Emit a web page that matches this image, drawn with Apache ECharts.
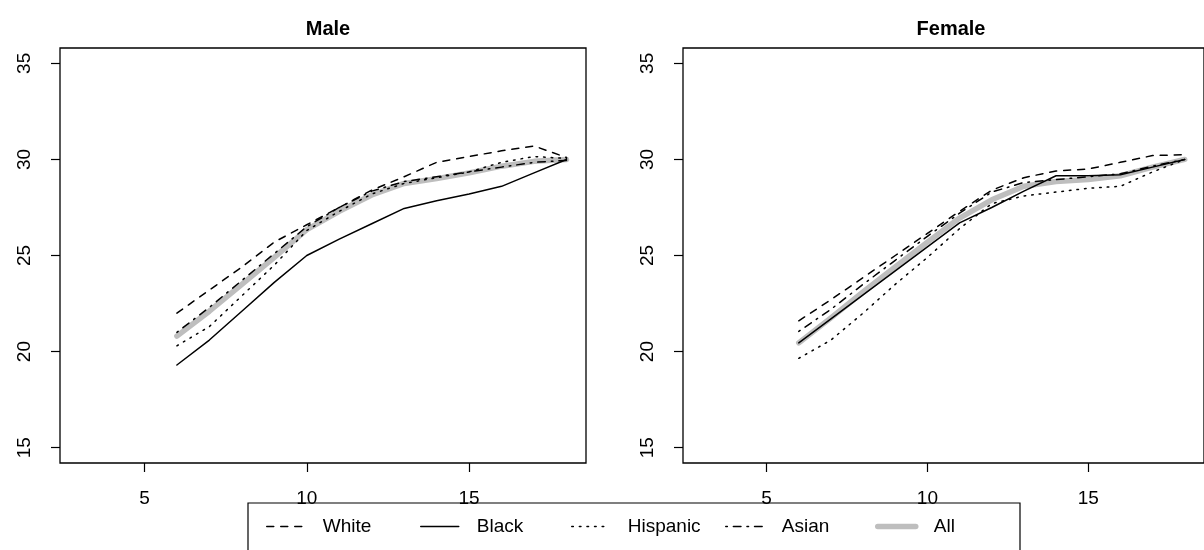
<!DOCTYPE html>
<html>
<head>
<meta charset="utf-8">
<script src="https://cdn.jsdelivr.net/npm/echarts@6/dist/echarts.min.js"></script>
<style>html,body{margin:0;padding:0;background:#fff}#c{width:1204px;height:550px}</style>
</head>
<body>
<div id="c"></div>
<script>
const ages = [6, 7, 8, 9, 10, 11, 12, 13, 14, 15, 16, 17, 18];
const panels = ['Male', 'Female'];
const groups = ['White', 'Black', 'Hispanic', 'Asian', 'All'];
const xTicks = [5, 10, 15];
const yTicks = [15, 20, 25, 30, 35];

const maleWhite    = [22.0, 23.2, 24.4, 25.7, 26.6, 27.5, 28.4, 29.1, 29.85, 30.15, 30.45, 30.7, 30.1];
const maleBlack    = [19.3, 20.6, 22.1, 23.6, 25.0, 25.85, 26.65, 27.45, 27.85, 28.2, 28.6, 29.3, 30.0];
const maleHispanic = [20.3, 21.3, 22.9, 24.5, 26.3, 27.3, 28.2, 28.75, 29.05, 29.35, 29.85, 30.15, 30.05];
const maleAsian    = [21.0, 22.3, 23.7, 25.1, 26.5, 27.5, 28.35, 28.85, 29.1, 29.35, 29.6, 29.85, 29.95];
const maleAll      = [20.8, 22.1, 23.5, 24.9, 26.35, 27.3, 28.15, 28.75, 29.0, 29.3, 29.65, 29.9, 30.0];

const femaleWhite    = [21.6, 22.7, 23.85, 25.0, 26.15, 27.3, 28.4, 29.05, 29.4, 29.5, 29.85, 30.2, 30.25];
const femaleBlack    = [20.45, 21.7, 22.95, 24.2, 25.45, 26.7, 27.5, 28.35, 29.15, 29.15, 29.2, 29.6, 30.0];
const femaleHispanic = [19.65, 20.6, 22.0, 23.5, 24.9, 26.4, 27.7, 28.1, 28.3, 28.5, 28.6, 29.35, 30.0];
const femaleAsian    = [21.05, 22.2, 23.5, 24.75, 26.0, 27.2, 28.3, 28.8, 28.95, 29.1, 29.25, 29.65, 30.0];
const femaleAll      = [20.45, 21.75, 23.1, 24.4, 25.7, 26.95, 27.9, 28.6, 28.85, 28.95, 29.15, 29.6, 30.0];

const values = [
  {White: maleWhite, Black: maleBlack, Hispanic: maleHispanic, Asian: maleAsian, All: maleAll},
  {White: femaleWhite, Black: femaleBlack, Hispanic: femaleHispanic, Asian: femaleAsian, All: femaleAll}
];

const FONT = "'Liberation Sans', Arial, Helvetica, sans-serif";
const styles = {
  White:    {color: '#000', width: 1.5, type: [7, 7]},
  Black:    {color: '#000', width: 1.5, type: 'solid'},
  Hispanic: {color: '#000', width: 1.5, type: [1.6, 6]},
  Asian:    {color: '#000', width: 1.5, type: [1.6, 6, 7.6, 6]},
  All:      {color: '#bebebe', width: 5.5, type: 'solid'}
};
const drawOrder = ['All', 'White', 'Black', 'Hispanic', 'Asian'];

// layout (pixels)
const gridLefts = [60, 683];
const legendLefts = [266, 420, 571, 725, 875];
const legendFrame = {x: 248, y: 503, width: 772, height: 70};

const grids = gridLefts.map(l => ({left: l, top: 48, width: 526, height: 415, show: true,
  borderColor: '#000', borderWidth: 1.3, backgroundColor: 'transparent'}));

const xAxes = [0, 1].map(i => ({
  type: 'value', gridIndex: i, min: 2.4, max: 18.6,
  splitLine: {show: false}, axisLine: {show: false},
  axisTick: {show: true, length: 9, customValues: xTicks, lineStyle: {color: '#000', width: 1.2}},
  axisLabel: {customValues: xTicks, fontSize: 19, fontFamily: FONT, color: '#000', margin: 26}
}));
const yAxes = [0, 1].map(i => ({
  type: 'value', gridIndex: i, min: 14.2, max: 35.8,
  splitLine: {show: false}, axisLine: {show: false},
  axisTick: {show: true, length: 9, customValues: yTicks, lineStyle: {color: '#000', width: 1.2}},
  axisLabel: {customValues: yTicks, rotate: 90, fontSize: 19, fontFamily: FONT, color: '#000', margin: 26}
}));

const series = [];
[0, 1].forEach(p => {
  drawOrder.forEach(g => {
    const s = styles[g];
    series.push({
      name: g, type: 'line', xAxisIndex: p, yAxisIndex: p,
      data: ages.map((a, i) => [a, values[p][g][i]]),
      symbol: 'none', showSymbol: false, smooth: false, silent: true, animation: false,
      itemStyle: {color: s.color},
      lineStyle: {color: s.color, width: s.width, type: s.type, cap: 'round', join: 'round'},
      emphasis: {disabled: true}
    });
  });
});

const legends = groups.map((g, i) => ({
  data: [{
    name: g,
    itemStyle: {opacity: 0},
    lineStyle: {width: styles[g].width, type: styles[g].type, color: styles[g].color, cap: 'round'}
  }],
  orient: 'horizontal', left: legendLefts[i], top: 517, padding: 0,
  itemWidth: 38, itemHeight: 14, selectedMode: false,
  itemStyle: {opacity: 0},
  textStyle: {fontSize: 19, fontFamily: FONT, color: '#000', padding: [0, 0, 0, 13]}
}));

const option = {
  backgroundColor: '#fff',
  animation: false,
  title: panels.map((t, i) => ({
    text: t, left: gridLefts[i] + 263, top: 14, textAlign: 'center',
    textStyle: {fontSize: 20, fontWeight: 'bold', fontFamily: FONT, color: '#000'}
  })),
  grid: grids,
  xAxis: xAxes,
  yAxis: yAxes,
  legend: legends,
  graphic: [{
    type: 'rect', shape: legendFrame, silent: true,
    style: {fill: 'none', stroke: '#000', lineWidth: 1.2}
  }],
  series: series
};
const chart = echarts.init(document.getElementById('c'), null, {renderer: 'canvas'});
chart.setOption(option);
</script>
</body>
</html>
